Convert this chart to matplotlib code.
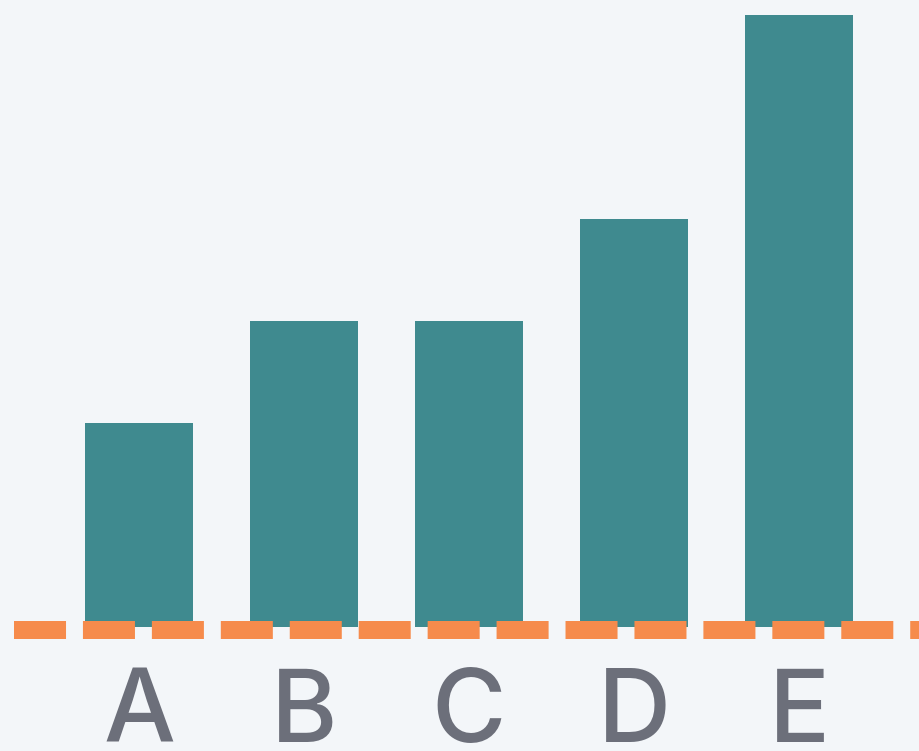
import matplotlib
import numpy as np

matplotlib.use('Agg')
from matplotlib import pyplot as plt
from matplotlib import transforms

categories = ["A", "B", "C", "D", "E"]
values = [2, 3, 3, 4, 6]

bg = "#f3f6f9"
bar_color = "#3f8a8f"
line_color = "#f68b4c"
text_color = "#6c6f7a"

fig = plt.figure(figsize=(9.19, 7.51), dpi=100, facecolor=bg)
ax = fig.add_axes([0, 0, 1, 1])
ax.set_facecolor(bg)

x = np.arange(len(categories))
ax.bar(x, values, width=0.65, color=bar_color, zorder=2)

# dashed baseline across the full width
ax.plot([-0.758, 5.0], [-0.03, -0.03], color=line_color, lw=12.96,
        ls=(0, (2.89, 0.94)), solid_capstyle="butt", dash_capstyle="butt", zorder=3)

ax.set_xlim(-139 / 165, (919 - 139) / 165)
ax.set_ylim(-124 / 102, 627 / 102)
ax.axis("off")

trans = transforms.blended_transform_factory(ax.transData, ax.transAxes)
for xi, lab in zip(x, categories):
    ax.text(xi, 9 / 751, lab, transform=trans, ha="center", va="baseline",
            fontsize=73, color=text_color, family="Inter", fontweight="medium")

fig.savefig("out.png", dpi=100, facecolor=bg)
